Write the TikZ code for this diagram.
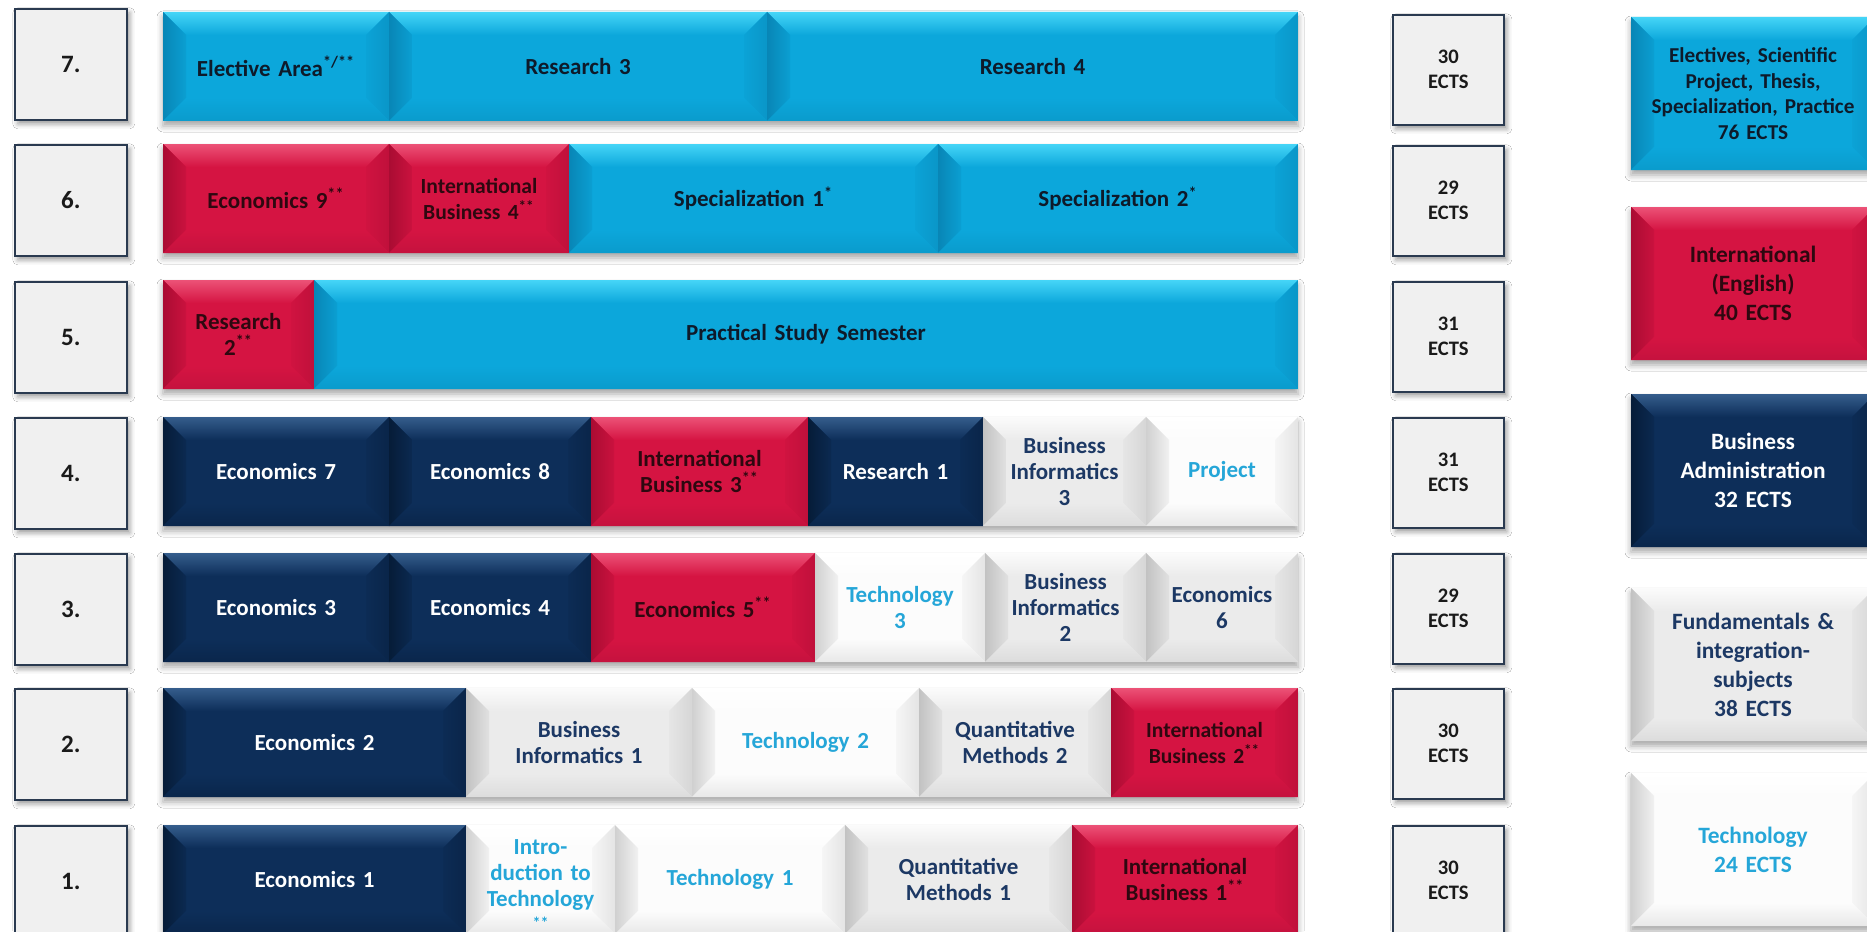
\documentclass[tikz,border=0pt]{standalone}
\usepackage{fontspec}
\setmainfont{Carlito}
\usetikzlibrary{shadows.blur}

\definecolor{cyF}{HTML}{0CA7DB}\definecolor{cyT}{HTML}{45D5F7}\definecolor{cyL}{HTML}{0886B6}
\definecolor{cyR}{HTML}{0A96C8}\definecolor{cyB}{HTML}{0A9BCC}\definecolor{cyTx}{HTML}{0E1A2A}
\definecolor{rdF}{HTML}{D51442}\definecolor{rdT}{HTML}{EC5277}\definecolor{rdL}{HTML}{AA0C33}
\definecolor{rdR}{HTML}{C0103B}\definecolor{rdB}{HTML}{C5123E}\definecolor{rdTx}{HTML}{2E0810}
\definecolor{nvF}{HTML}{0D2E59}\definecolor{nvT}{HTML}{355D8C}\definecolor{nvL}{HTML}{061C38}
\definecolor{nvR}{HTML}{0A2549}\definecolor{nvB}{HTML}{0A264B}\definecolor{nvTx}{HTML}{FFFFFF}
\definecolor{gyF}{HTML}{EBEBEB}\definecolor{gyT}{HTML}{FBFBFB}\definecolor{gyL}{HTML}{C2C2C2}
\definecolor{gyR}{HTML}{D6D6D6}\definecolor{gyB}{HTML}{DCDCDC}\definecolor{gyTx}{HTML}{1C3864}
\definecolor{wtF}{HTML}{FCFCFC}\definecolor{wtT}{HTML}{FFFFFF}\definecolor{wtL}{HTML}{D0D0D0}
\definecolor{wtR}{HTML}{E4E4E4}\definecolor{wtB}{HTML}{E8E8E8}\definecolor{wtTx}{HTML}{25A6D8}
\definecolor{semF}{HTML}{F0F0F0}\definecolor{semD}{HTML}{2A3A50}\definecolor{semTx}{HTML}{1A1A1A}

\def\bv{11.5pt}
\tikzset{
  bev/.style n args={6}{fill=#1, text=#6,
    path picture={
      \coordinate (pNW) at (path picture bounding box.north west);
      \coordinate (pNE) at (path picture bounding box.north east);
      \coordinate (pSW) at (path picture bounding box.south west);
      \coordinate (pSE) at (path picture bounding box.south east);
      \coordinate (iNW) at ([shift={(\bv,-\bv)}]pNW);
      \coordinate (iNE) at ([shift={(-\bv,-\bv)}]pNE);
      \coordinate (iSW) at ([shift={(\bv,\bv)}]pSW);
      \coordinate (iSE) at ([shift={(-\bv,\bv)}]pSE);
      \shade[top color=#2, bottom color=#1] (pNW) -- (pNE) -- (iNE) -- (iNW) -- cycle;
      \shade[left color=#3, right color=#3!25!#1] (pNW) -- (iNW) -- (iSW) -- (pSW) -- cycle;
      \shade[left color=#4!25!#1, right color=#4] (pNE) -- (pSE) -- (iSE) -- (iNE) -- cycle;
      \shade[top color=#1, bottom color=#5] (pSW) -- (iSW) -- (iSE) -- (pSE) -- cycle;
    }},
  cy/.style={bev={cyF}{cyT}{cyL}{cyR}{cyB}{cyTx}},
  rd/.style={bev={rdF}{rdT}{rdL}{rdR}{rdB}{rdTx}},
  nv/.style={bev={nvF}{nvT}{nvL}{nvR}{nvB}{nvTx}},
  gy/.style={bev={gyF}{gyT}{gyL}{gyR}{gyB}{gyTx}},
  wt/.style={bev={wtF}{wtT}{wtL}{wtR}{wtB}{wtTx}},
  cell/.style={inner sep=0pt, outer sep=0pt, anchor=north west, minimum height=54.5pt,
    align=center, font=\fontsize{11.5}{13}\selectfont\bfseries},
  smallfont/.style={font=\fontsize{10.8}{13}\selectfont\bfseries},
  legend/.style={inner sep=0pt, outer sep=0pt, anchor=north west, minimum width=122pt,
    text width=114pt, minimum height=76.5pt, align=center,
    font=\fontsize{11.7}{14.5}\selectfont\bfseries,
    blur shadow={shadow xshift=0pt, shadow yshift=-2.5pt, shadow blur radius=3pt, shadow opacity=35}},
  sembox/.style={anchor=north west, minimum width=56pt, minimum height=55.5pt, inner sep=0pt,
    fill=semF, draw=semD, line width=0.8pt, text=semTx,
    font=\fontsize{12.5}{14}\selectfont\bfseries,
    blur shadow={shadow xshift=1.5pt, shadow yshift=-2pt, shadow blur radius=2.5pt, shadow opacity=40}},
  ectsbox/.style={anchor=north west, minimum width=55.5pt, minimum height=55pt, inner sep=0pt,
    fill=semF, draw=semD, line width=0.8pt, text=semTx, align=center,
    font=\fontsize{10.3}{12.5}\selectfont\bfseries,
    blur shadow={shadow xshift=1.5pt, shadow yshift=-2pt, shadow blur radius=2.5pt, shadow opacity=40}},
  rowshadow/.style={blur shadow={shadow xshift=0pt, shadow yshift=-2.5pt, shadow blur radius=3pt, shadow opacity=35}}
}

\newcommand\cellnode[6]{%
  \pgfmathsetmacro\cw{(#4-#3)*0.5}%
  \pgfmathsetmacro\tw{(#4-#3)*0.5-8}%
  \node[cell,#1,minimum width=\cw pt,text width=\tw pt] (#2) at (#3,#5) {#6};%
}
\newcommand\rowsh[1]{\path[rowshadow] (163,#1) rectangle (1298,#1+109);}

\begin{document}
\begin{tikzpicture}[x=0.5pt,y=-0.5pt]
\useasboundingbox (0,0) rectangle (1867,931);
\clip (0,0) rectangle (1867,931);
\fill[white] (0,0) rectangle (1867,931);

% semester boxes
\node[sembox] (s7) at (14,8) {7.};
\node[sembox] (s6) at (14,144) {6.};
\node[sembox] (s5) at (14,281) {5.};
\node[sembox] (s4) at (14,417) {4.};
\node[sembox] (s3) at (14,553) {3.};
\node[sembox] (s2) at (14,688) {2.};
\node[sembox] (s1) at (14,825) {1.};

% row shadows
\rowsh{12}\rowsh{144}\rowsh{280}\rowsh{417}\rowsh{553}\rowsh{688}\rowsh{825}

% row 7
\cellnode{cy}{c71}{163}{389}{12}{Elective Area\textsuperscript{*/**}}
\cellnode{cy}{c72}{389}{767}{12}{Research 3}
\cellnode{cy}{c73}{767}{1298}{12}{Research 4}
% row 6
\cellnode{rd}{c61}{163}{389}{144}{Economics 9\textsuperscript{**}}
\cellnode{rd,smallfont}{c62}{389}{569}{144}{International\\Business 4\textsuperscript{**}}
\cellnode{cy}{c63}{569}{938}{144}{Specialization 1\textsuperscript{*}}
\cellnode{cy}{c64}{938}{1298}{144}{Specialization 2\textsuperscript{*}}
% row 5
\cellnode{rd}{c51}{163}{314}{280}{Research\\2\textsuperscript{**}}
\cellnode{cy}{c52}{314}{1298}{280}{Practical Study Semester}
% row 4
\cellnode{nv}{c41}{163}{389}{417}{Economics 7}
\cellnode{nv}{c42}{389}{591}{417}{Economics 8}
\cellnode{rd}{c43}{591}{808}{417}{International\\Business 3\textsuperscript{**}}
\cellnode{nv}{c44}{808}{983}{417}{Research 1}
\cellnode{gy}{c45}{983}{1146}{417}{Business\\Informatics\\3}
\cellnode{wt}{c46}{1146}{1298}{417}{Project}
% row 3
\cellnode{nv}{c31}{163}{389}{553}{Economics 3}
\cellnode{nv}{c32}{389}{591}{553}{Economics 4}
\cellnode{rd}{c33}{591}{815}{553}{Economics 5\textsuperscript{**}}
\cellnode{wt}{c34}{815}{985}{553}{Technology\\3}
\cellnode{gy}{c35}{985}{1146}{553}{Business\\Informatics\\2}
\cellnode{gy}{c36}{1146}{1298}{553}{Economics\\6}
% row 2
\cellnode{nv}{c21}{163}{466}{688}{Economics 2}
\cellnode{gy}{c22}{466}{692}{688}{Business\\Informatics 1}
\cellnode{wt}{c23}{692}{919}{688}{Technology 2}
\cellnode{gy}{c24}{919}{1111}{688}{Quantitative\\Methods 2}
\cellnode{rd,smallfont}{c25}{1111}{1298}{688}{International\\Business 2\textsuperscript{**}}
% row 1
\cellnode{nv}{c11}{163}{466}{825}{Economics 1}
\cellnode{wt}{c12}{466}{615}{825}{\rule{0pt}{12pt}Intro-\\duction to\\Technology\\[-2pt]{\fontsize{8}{10}\selectfont **}}
\cellnode{wt}{c13}{615}{845}{825}{Technology 1}
\cellnode{gy}{c14}{845}{1072}{825}{Quantitative\\Methods 1}
\cellnode{rd}{c15}{1072}{1298}{825}{International\\Business 1\textsuperscript{**}}

% ECTS boxes
\node[ectsbox] (e7) at (1392,14) {30\\ECTS};
\node[ectsbox] (e6) at (1392,145) {29\\ECTS};
\node[ectsbox] (e5) at (1392,281) {31\\ECTS};
\node[ectsbox] (e4) at (1392,417) {31\\ECTS};
\node[ectsbox] (e3) at (1392,553) {29\\ECTS};
\node[ectsbox] (e2) at (1392,688) {30\\ECTS};
\node[ectsbox] (e1) at (1392,825) {30\\ECTS};

% legend
\node[legend,cy,font=\fontsize{10.6}{12.8}\selectfont\bfseries] (l1) at (1631,17)
  {Electives, Scientific\\Project, Thesis,\\Specialization, Practice\\76 ECTS};
\node[legend,rd] (l2) at (1631,207) {International\\(English)\\40 ECTS};
\node[legend,nv] (l3) at (1631,394) {Business\\Administration\\32 ECTS};
\node[legend,gy] (l4) at (1631,588) {Fundamentals \&\\integration-\\subjects\\38 ECTS};
\node[legend,wt] (l5) at (1631,773) {Technology\\24 ECTS};
\end{tikzpicture}
\end{document}
